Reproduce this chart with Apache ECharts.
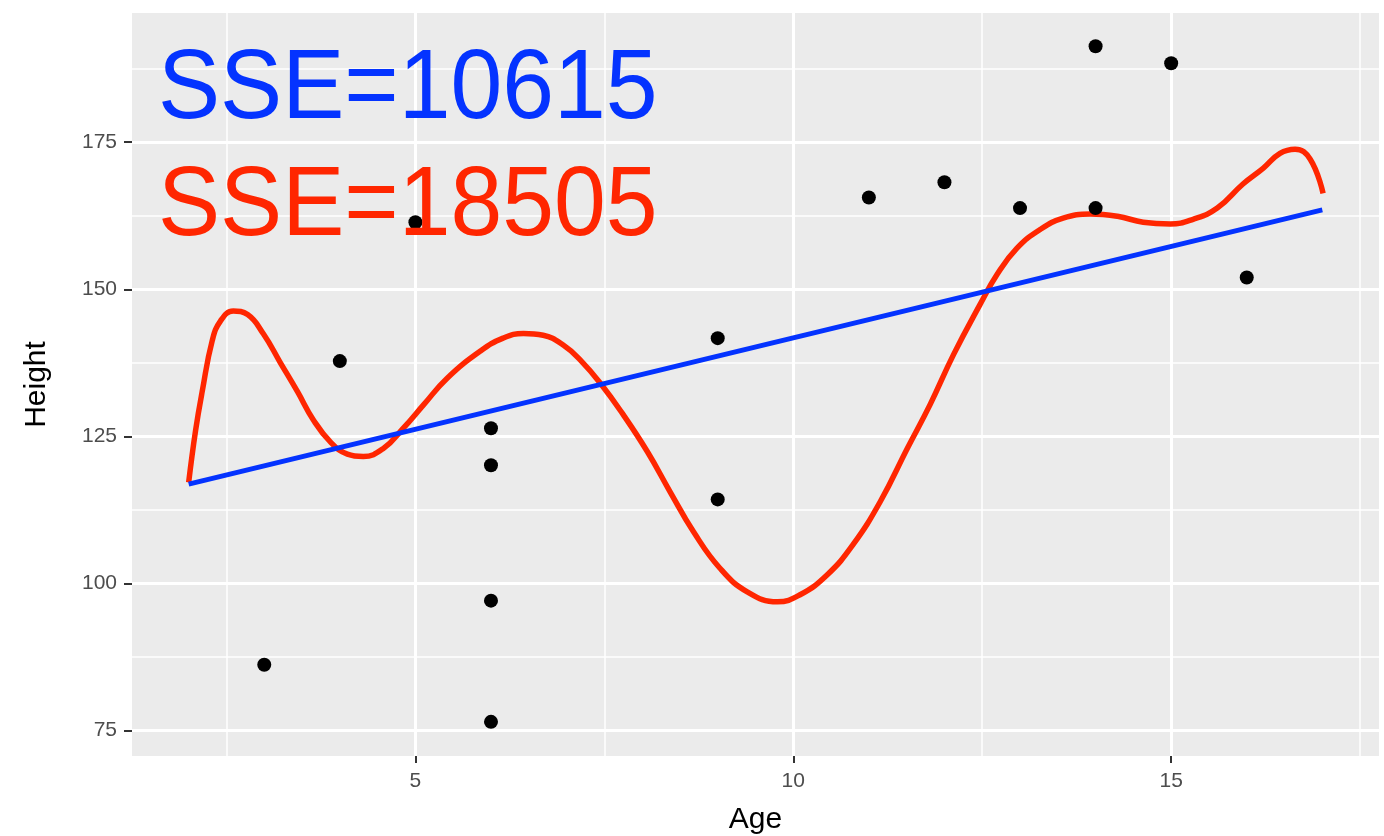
<!DOCTYPE html>
<html><head><meta charset="utf-8">
<script src="https://cdn.jsdelivr.net/npm/echarts@6/dist/echarts.min.js"></script>
<style>html,body{margin:0;padding:0;background:#fff}#c{width:1384px;height:836px}</style>
</head><body><div id="c"></div>
<script>
// ---- data ----
const pointAge = [3, 4, 5, 6, 6, 6, 6, 9, 9, 11, 12, 13, 14, 14, 15, 16];
const pointHeight = [86.2, 137.8, 161.4, 126.4, 120.1, 97.1, 76.5, 141.7, 114.3, 165.6, 168.2, 163.8, 191.3, 163.8, 188.4, 152.0];

const linearAge = [2, 17];
const linearHeight = [116.9, 163.5];

const curveAge = [2.00, 2.09, 2.18, 2.31, 2.42, 2.59, 2.78, 2.99, 3.21, 3.44, 3.65, 3.88, 4.10, 4.31, 4.58, 4.84, 5.11, 5.42, 5.86, 6.16, 6.43, 6.69, 6.96, 7.18, 7.45, 7.75, 8.07, 8.37, 8.68, 9.03, 9.39, 9.79, 10.09, 10.45, 10.79, 11.15, 11.51, 11.81, 12.12, 12.47, 12.70, 12.96, 13.27, 13.57, 13.93, 14.29, 14.63, 14.99, 15.29, 15.61, 15.95, 16.22, 16.44, 16.64, 16.84, 17.01];
const curveHeight = [117.2, 125.9, 132.7, 141.2, 144.6, 146.3, 145.7, 142.4, 137.6, 132.6, 127.8, 124.0, 122.0, 121.6, 123.0, 126.4, 130.4, 134.9, 139.5, 141.7, 142.5, 142.2, 140.5, 138.0, 134.0, 128.7, 122.4, 115.6, 108.8, 102.6, 98.6, 96.9, 98.1, 101.5, 106.6, 113.9, 123.0, 130.4, 138.9, 147.4, 152.6, 157.0, 160.2, 162.1, 162.8, 162.4, 161.4, 161.1, 161.9, 163.8, 167.9, 170.6, 173.1, 173.8, 172.1, 166.3];

const xTicks = [5, 10, 15];
const yTicks = [75, 100, 125, 150, 175];
const xMinor = [2.5, 7.5, 12.5, 17.5];
const yMinor = [87.5, 112.5, 137.5, 162.5, 187.5];

const xTitle = 'Age';
const yTitle = 'Height';
const sseLabels = ['SSE=10615', 'SSE=18505'];

// ---- styles ----
const BLUE = '#0433FF';
const RED = '#FF2600';
const mainFont = "'Liberation Sans', Arial, sans-serif";

const zip = (a, b) => a.map((v, i) => [v, b[i]]);

const gridMarks = [];
xMinor.forEach(v => gridMarks.push({ xAxis: v, lineStyle: { width: 1.5 } }));
yMinor.forEach(v => gridMarks.push({ yAxis: v, lineStyle: { width: 1.5 } }));
xTicks.forEach(v => gridMarks.push({ xAxis: v, lineStyle: { width: 3 } }));
yTicks.forEach(v => gridMarks.push({ yAxis: v, lineStyle: { width: 3 } }));

const chart = echarts.init(document.getElementById('c'), null, { renderer: 'canvas' });
chart.setOption({
  animation: false,
  backgroundColor: '#ffffff',
  grid: {
    left: 132, right: 5, top: 13, bottom: 80,
    outerBoundsMode: 'none', containLabel: false,
    show: true, backgroundColor: '#EBEBEB', borderWidth: 0
  },
  xAxis: {
    type: 'value', min: 1.25, max: 17.75,
    name: xTitle, nameLocation: 'middle', nameGap: 49,
    nameTextStyle: { fontFamily: mainFont, fontSize: 30, color: '#000' },
    axisLine: { show: false },
    axisTick: { show: true, length: 7, customValues: xTicks, lineStyle: { color: '#333', width: 2 } },
    axisLabel: { customValues: xTicks, margin: 15, fontFamily: mainFont, fontSize: 21, color: '#4D4D4D' },
    splitLine: { show: false }
  },
  yAxis: {
    type: 'value', min: 70.7, max: 196.95,
    name: yTitle, nameLocation: 'middle', nameGap: 80, nameRotate: 90,
    nameTextStyle: { fontFamily: mainFont, fontSize: 30, color: '#000' },
    axisLine: { show: false },
    axisTick: { show: true, length: 8, customValues: yTicks, lineStyle: { color: '#333', width: 2 } },
    axisLabel: { customValues: yTicks, margin: 15, fontFamily: mainFont, fontSize: 21, color: '#4D4D4D' },
    splitLine: { show: false }
  },
  series: [
    {
      type: 'scatter', data: [], z: 1, silent: true,
      markLine: {
        z: 1, silent: true, symbol: 'none', label: { show: false }, animation: false,
        lineStyle: { color: '#FFFFFF', type: 'solid' },
        data: gridMarks
      }
    },
    {
      type: 'line', data: zip(curveAge, curveHeight), z: 3,
      smooth: 0.45, showSymbol: false, clip: true,
      lineStyle: { color: RED, width: 5.5 }
    },
    {
      type: 'line', data: zip(linearAge, linearHeight), z: 4,
      showSymbol: false,
      lineStyle: { color: BLUE, width: 5 }
    },
    {
      type: 'scatter', data: zip(pointAge, pointHeight), z: 5,
      symbol: 'circle', symbolSize: 14,
      itemStyle: { color: '#000000', opacity: 1 }
    }
  ],
  graphic: [
    {
      type: 'text', left: 158, top: 42, z: 10,
      scaleX: 0.95,
      style: { text: sseLabels[0], fill: BLUE, font: "98px " + mainFont }
    },
    {
      type: 'text', left: 158, top: 159, z: 10,
      scaleX: 0.95,
      style: { text: sseLabels[1], fill: RED, font: "98px " + mainFont }
    }
  ]
});
</script>
</body></html>
